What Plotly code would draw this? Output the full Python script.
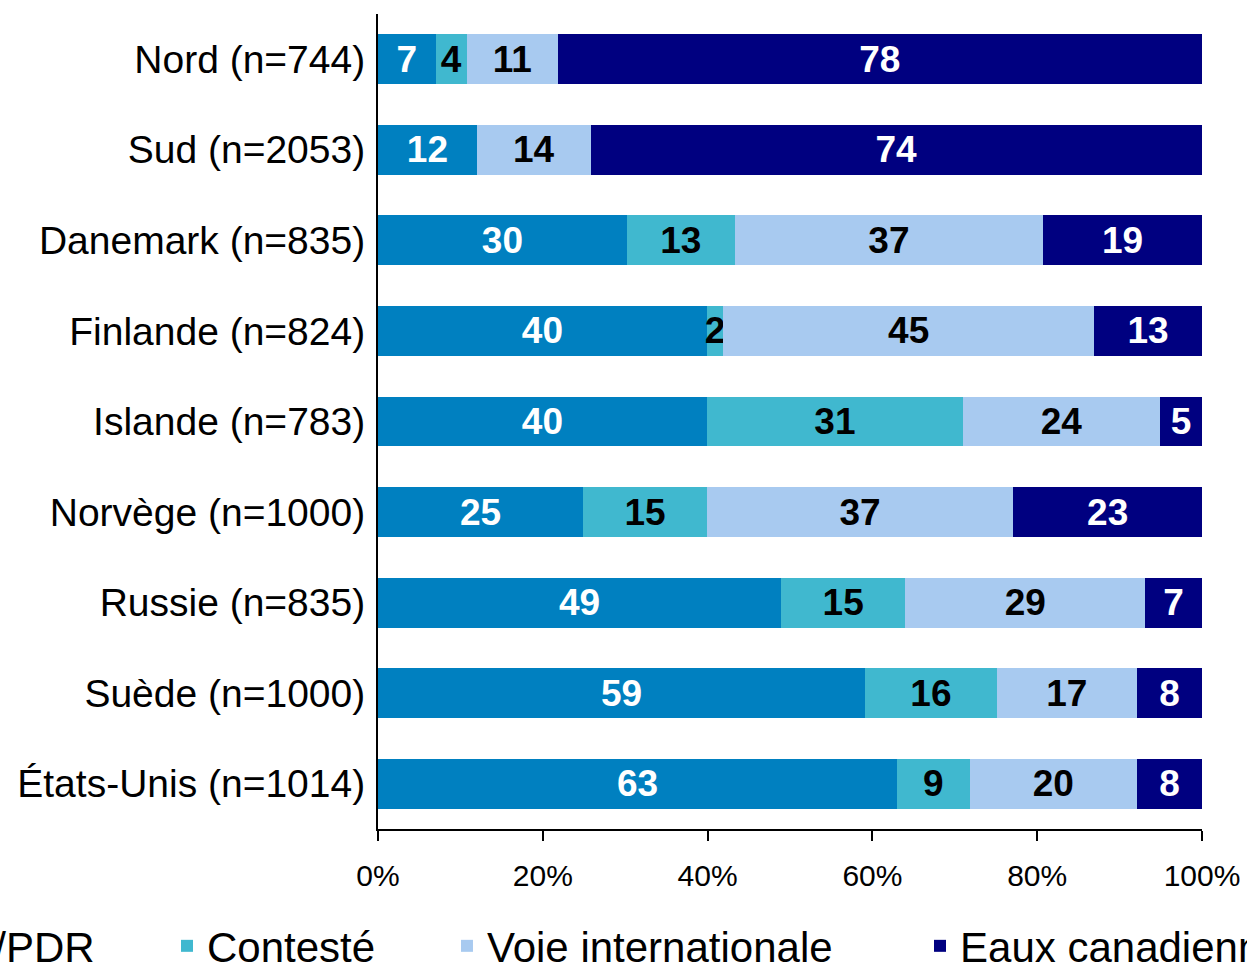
import plotly.graph_objects as go

categories = ["Nord (n=744)", "Sud (n=2053)", "Danemark (n=835)", "Finlande (n=824)",
              "Islande (n=783)", "Norvège (n=1000)", "Russie (n=835)", "Suède (n=1000)",
              "États-Unis (n=1014)"]

series_names = ["NSP/PDR", "Contesté", "Voie internationale", "Eaux canadiennes"]

nsp_pdr = [7.0, 12.0, 30.2, 39.9, 39.9, 24.9, 48.9, 59.1, 63.0]
conteste = [3.8, None, 13.1, 2.0, 31.1, 15.0, 15.1, 16.0, 8.8]
voie_internationale = [11.0, 13.8, 37.4, 45.0, 23.9, 37.2, 29.1, 17.0, 20.3]
eaux_canadiennes = [78.2, 74.2, 19.3, 13.1, 5.1, 22.9, 6.9, 7.9, 7.9]

tick_values = [0, 20, 40, 60, 80, 100]
tick_labels = ["0%", "20%", "40%", "60%", "80%", "100%"]

colors = ["#0080C0", "#40B8CF", "#A8CAF0", "#000080"]
text_colors = ["white", "black", "black", "white"]
legend_ids = ["legend", "legend2", "legend3", "legend4"]
legend_x = [-0.619, -0.2561, 0.0837, 0.6578]

FONT = "Liberation Sans, Arial, sans-serif"

fig = go.Figure()
for name, vals, col, tcol, lid in zip(series_names,
                                      [nsp_pdr, conteste, voie_internationale, eaux_canadiennes],
                                      colors, text_colors, legend_ids):
    fig.add_trace(go.Bar(
        y=categories, x=vals, name=name, orientation="h",
        marker=dict(color=col, line=dict(width=0)),
        texttemplate="%{x:.0f}", textposition="inside", insidetextanchor="middle",
        textangle=0,
        insidetextfont=dict(family=FONT, size=37, color=tcol, weight="bold"),
        legend=lid, hoverinfo="skip",
    ))

layout_legends = {}
for lid, lx in zip(legend_ids, legend_x):
    layout_legends[lid] = dict(
        x=lx, xanchor="left", y=-0.1436, yanchor="middle",
        orientation="h", bgcolor="rgba(0,0,0,0)", borderwidth=0,
        font=dict(family=FONT, size=42, color="black"),
    )

fig.update_layout(
    width=1247, height=969,
    barmode="stack", bargap=0.448,
    plot_bgcolor="white", paper_bgcolor="white",
    margin=dict(l=378, r=45, t=14, b=140, autoexpand=False),
    uniformtext=dict(minsize=37, mode="show"),
    showlegend=True,
    **layout_legends,
)

fig.update_xaxes(
    range=[0, 100], tickvals=tick_values, ticktext=tick_labels,
    showgrid=False, zeroline=False,
    showline=True, linecolor="black", linewidth=2,
    ticks="outside", ticklen=10, tickwidth=2, tickcolor="black",
    tickfont=dict(family=FONT, size=30, color="black"),
    ticklabelstandoff=9, automargin=False,
)
fig.update_yaxes(
    autorange="reversed", showgrid=False, zeroline=False,
    showline=True, linecolor="black", linewidth=2,
    ticks="", tickfont=dict(family=FONT, size=39, color="black"),
    ticklabelstandoff=3, automargin=False,
)

fig.write_html("out.html", config={"displayModeBar": False},
               post_script="document.body.style.margin='0';")
